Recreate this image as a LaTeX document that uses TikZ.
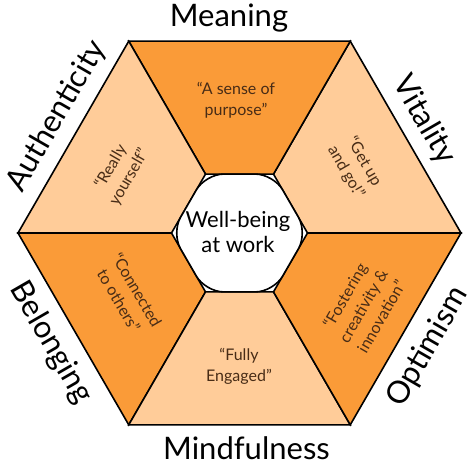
\documentclass[tikz,border=0pt]{standalone}
\usepackage{fontspec}
\setmainfont{Lato}
\usepackage{tikz}
\definecolor{Wheel-dark}{RGB}{250,155,56}
\definecolor{Wheel-light}{RGB}{255,204,153}
\definecolor{Wheel-text}{RGB}{72,44,22}

\begin{document}
\begin{tikzpicture}[x=1pt, y=1pt,
    sector/.style={draw=black, line width=1.6pt, line join=miter},
    facet/.style={text=black, font=\fontsize{31}{34}\selectfont, inner sep=0pt},
    motto/.style={text=Wheel-text, align=center, font=\fontsize{16}{21}\selectfont, inner sep=0pt}]
  \useasboundingbox (-239.5,-236) rectangle (233.5,233);

  % outer and inner corners
  \coordinate (o0) at (0:221.5);   \coordinate (i0) at (0:68);
  \coordinate (o1) at (60:221.5);  \coordinate (i1) at (60:68);
  \coordinate (o2) at (120:221.5); \coordinate (i2) at (120:68);
  \coordinate (o3) at (180:221.5); \coordinate (i3) at (180:68);
  \coordinate (o4) at (240:221.5); \coordinate (i4) at (240:68);
  \coordinate (o5) at (300:221.5); \coordinate (i5) at (300:68);

  \filldraw[sector, fill=Wheel-light] (o0) -- (o1) -- (i1) -- (i0) -- cycle;
  \filldraw[sector, fill=Wheel-dark ] (o1) -- (o2) -- (i2) -- (i1) -- cycle;
  \filldraw[sector, fill=Wheel-light] (o2) -- (o3) -- (i3) -- (i2) -- cycle;
  \filldraw[sector, fill=Wheel-dark ] (o3) -- (o4) -- (i4) -- (i3) -- cycle;
  \filldraw[sector, fill=Wheel-light] (o4) -- (o5) -- (i5) -- (i4) -- cycle;
  \filldraw[sector, fill=Wheel-dark ] (o5) -- (o0) -- (i0) -- (i5) -- cycle;

  \filldraw[draw=black, fill=white, line width=1.6pt, rounded corners=18pt] (i0) -- (i1) -- (i2) -- (i3) -- (i4) -- (i5) -- cycle;
  \node[align=center, font=\fontsize{22}{25}\selectfont, inner sep=0pt] (core) at (-1.5,1) {Well-being\\at work};

  % facet names round the outside
  \node[facet, anchor=base            ] (mean) at (-10.5, 207)   {Meaning};
  \node[facet, rotate=-60             ] (vita) at (184.5, 113)   {Vitality};
  \node[facet, rotate=60              ] (opti) at (188.5, -114)  {Optimism};
  \node[facet, anchor=base            ] (mind) at (7, -226)      {Mindfulness};
  \node[facet, rotate=-60             ] (belo) at (-188.5, -110) {Belonging};
  \node[facet, rotate=60              ] (auth) at (-182.5, 117)  {Authenticity};

  % mottos in the sectors
  \node[motto                ] (purp) at (-3.5, 133)    {“A sense of\\purpose”};
  \node[motto, rotate=-60    ] (goup) at (115.5, 66)    {“Get up\\and go!”};
  \node[motto, rotate=60     ] (fost) at (123.5, -73)   {“Fostering\\creativity \&\\innovation”};
  \node[motto                ] (enga) at (-0.5, -133)   {“Fully\\Engaged”};
  \node[motto, rotate=-60    ] (conn) at (-111.5, -62)  {“Connected\\to others”};
  \node[motto, rotate=60     ] (real) at (-119.5, 61)   {“Really\\yourself”};
\end{tikzpicture}
\end{document}
